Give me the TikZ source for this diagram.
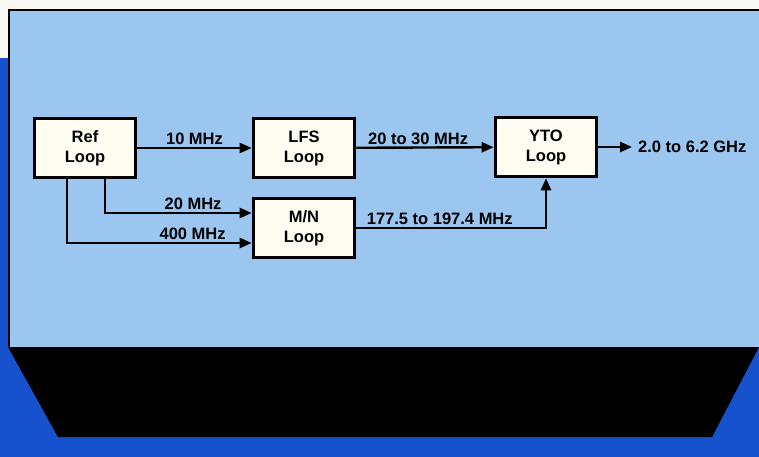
\documentclass[tikz,border=0pt]{standalone}
\usepackage{fontspec}
\setsansfont{Liberation Sans}
\usetikzlibrary{arrows.meta}
\definecolor{panelblue}{RGB}{154,198,240}
\definecolor{deepblue}{RGB}{22,82,205}
\definecolor{paper}{RGB}{250,248,242}
\definecolor{boxfill}{RGB}{255,252,242}
\begin{document}
\begin{tikzpicture}[x=1pt, y=-1pt,
    loopbox/.style={draw, line width=3.6pt, fill=boxfill, minimum width=101pt,
        minimum height=59pt, align=center, font=\sffamily\bfseries\fontsize{16.5}{20}\selectfont},
    sig/.style={line width=2.4pt, -{Triangle[length=12pt, width=10pt]}},
    freq/.style={font=\sffamily\bfseries\fontsize{16.5}{20}\selectfont, inner sep=2pt}]
    \useasboundingbox (0,0) rectangle (759,457);

    % Page and backdrop
    \fill[paper] (0,0) rectangle (759,457);
    \fill[deepblue] (0,58) rectangle (759,457);
    \fill[panelblue] (9,10) rectangle (759,347);
    \draw[line width=2.4pt] (759,10) -- (9,10) -- (9,347);
    \fill[black] (8,347) -- (759,347) -- (712,437) -- (58,437) -- cycle;

    % Loops
    \node (ref) at (85,148) [loopbox] {Ref\\Loop};
    \node (lfs) at (304,148) [loopbox] {LFS\\Loop};
    \node (mn) at (304,228) [loopbox] {M/N\\Loop};
    \node (yto) at (546,147) [loopbox] {YTO\\Loop};
    \coordinate (out) at (632,147);

    % Top row
    \draw[sig] (ref) -- node[freq, above] (f10) {10 MHz} (lfs);
    \draw[sig] (lfs) -- node[freq, above, pos=0.45] (f20to30) {20 to 30 MHz} (yto);
    \draw[sig] (yto) -- (out);
    \node (fout) at (out) [freq, anchor=west, inner sep=6pt] {2.0 to 6.2 GHz};

    % Feeds to and from M/N loop
    \draw[sig] ([xshift=20pt]ref.south) |- node[freq, above, pos=0.8] (f20) {20 MHz} ([yshift=15pt]mn.west);
    \draw[sig] ([xshift=-18pt]ref.south) |- node[freq, above, pos=0.84] (f400) {400 MHz} ([yshift=-15pt]mn.west);
    \draw[sig] (mn.east) -| node[freq, above, pos=0.22] (fmn) {177.5 to 197.4 MHz} (yto.south);

\end{tikzpicture}
\end{document}
